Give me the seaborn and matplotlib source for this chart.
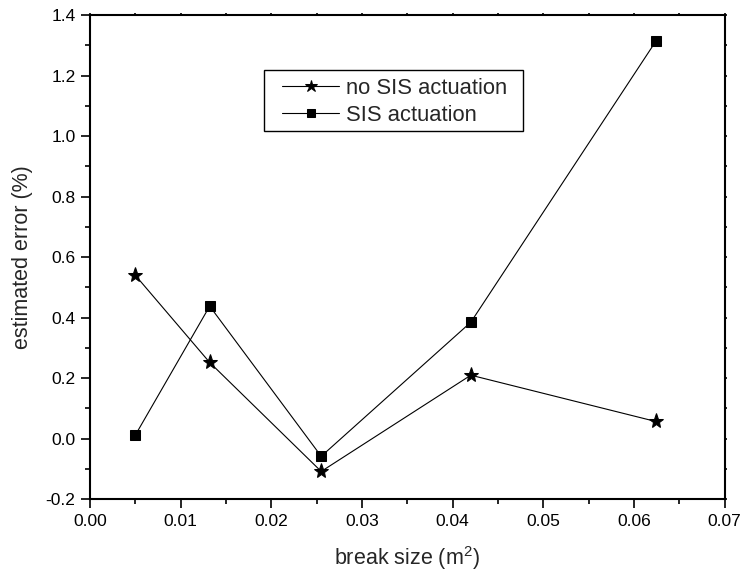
import matplotlib
matplotlib.use("Agg")
import matplotlib.pyplot as plt
from matplotlib.patches import Rectangle
from matplotlib.ticker import MultipleLocator, FormatStrFormatter
import pandas as pd
import seaborn as sns

# Break sizes (m^2) and estimated error (%) for the two cases
break_size = [0.005, 0.0132, 0.0255, 0.042, 0.0624]
no_sis = [0.54, 0.252, -0.108, 0.21, 0.057]
sis = [0.012, 0.438, -0.058, 0.385, 1.313]

sns.set_style("ticks")
plt.rcParams["font.family"] = ["Liberation Sans", "DejaVu Sans"]

df = pd.DataFrame({"x": break_size, "no": no_sis, "sis": sis})

W, H = 742, 583
fig = plt.figure(figsize=(W / 100, H / 100), dpi=100)
ax = fig.add_axes([0.1213, 0.1436, 0.8554, 0.8307])

sns.lineplot(data=df, x="x", y="no", ax=ax, color="black", lw=0.8,
             marker="*", markersize=11, markeredgecolor="black",
             markerfacecolor="black", label="no SIS actuation", sort=False)
sns.lineplot(data=df, x="x", y="sis", ax=ax, color="black", lw=0.8,
             marker="s", markersize=7, markeredgecolor="black",
             markerfacecolor="black", label="SIS actuation", sort=False)

ax.set_xlim(0.0, 0.07)
ax.set_ylim(-0.2, 1.4)
ax.xaxis.set_major_locator(MultipleLocator(0.01))
ax.xaxis.set_minor_locator(MultipleLocator(0.005))
ax.yaxis.set_major_locator(MultipleLocator(0.2))
ax.yaxis.set_minor_locator(MultipleLocator(0.1))
ax.xaxis.set_major_formatter(FormatStrFormatter("%.2f"))
ax.yaxis.set_major_formatter(FormatStrFormatter("%.1f"))

for s in ax.spines.values():
    s.set_linewidth(1.5)
    s.set_color("black")

ax.tick_params(which="major", direction="out", length=6.5, width=1.2,
               labelsize=12.5, colors="black", pad=4)
ax.tick_params(which="minor", direction="out", length=3.5, width=1.2,
               colors="black")
ax.tick_params(which="both", top=True, right=True)
# short stubs on the mirrored top and right axes
for t in ax.xaxis.get_ticklines(minor=False)[1::2] + ax.xaxis.get_ticklines(minor=True)[1::2]:
    t.set_markersize(1.5)
for t in ax.yaxis.get_ticklines(minor=False)[1::2] + ax.yaxis.get_ticklines(minor=True)[1::2]:
    t.set_markersize(1.5)

ax.set_xlabel("break size (m$^\\mathregular{2}$)", fontsize=15.5, labelpad=11)
ax.set_ylabel("estimated error (%)", fontsize=15.5, labelpad=9)

# legend entries without their own frame; the box is drawn separately
leg = ax.legend(loc="upper left", bbox_to_anchor=(282 / W, 1 - 78 / H),
                bbox_transform=fig.transFigure, fontsize=15.8, frameon=False,
                handlelength=2.6, handletextpad=0.3,
                borderpad=0.0, labelspacing=0.28, borderaxespad=0)
for h in leg.legend_handles:
    h.set_markersize(h.get_markersize() * 0.85)
fig.patches.append(Rectangle((264 / W, 1 - 131 / H), (523 - 264) / W, 61 / H,
                             transform=fig.transFigure, fill=False,
                             edgecolor="black", linewidth=1.0, zorder=5))

fig.savefig("out.png", dpi=100)
